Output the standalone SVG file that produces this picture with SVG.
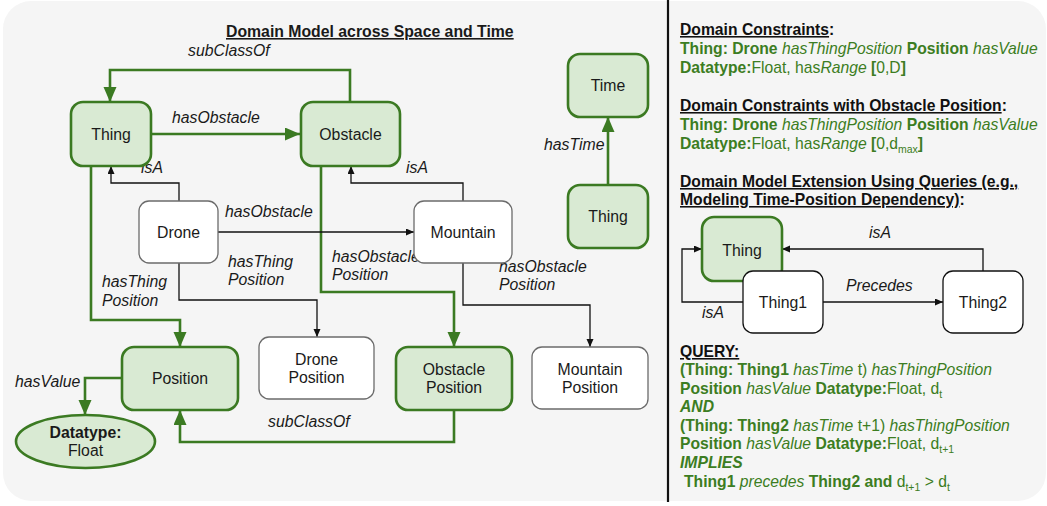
<svg xmlns="http://www.w3.org/2000/svg" width="1047" height="506" viewBox="0 0 1047 506">
  <defs>
    <style>
      text { font-family: "Liberation Sans", Arial, sans-serif; font-size: 15.8px; fill: #1a1a1a; }
      .lbl { font-style: italic; }
      .ctr { text-anchor: middle; }
      .title { font-weight: bold; text-decoration: underline; }
      .green-node { fill: #d9ead3; stroke: #3b7a22; stroke-width: 2.6; }
      .white-node { fill: #ffffff; stroke: #6b6b6b; stroke-width: 1.3; }
      .black-node { fill: #ffffff; stroke: #111111; stroke-width: 1.3; }
      .g-edge { fill: none; stroke: #3b7a22; stroke-width: 2.6; marker-end: url(#arrowGreen); }
      .b-edge { fill: none; stroke: #111111; stroke-width: 1.3; marker-end: url(#arrowBlack); }
      .gt { fill: #3c7d22; font-size: 15.7px; }
      .b { font-weight: bold; }
      .i { font-style: italic; }
      .u { text-decoration: underline; }
      .hd { font-weight: bold; fill: #111111; font-size: 15.7px; }
    </style>
    <marker id="arrowGreen" markerUnits="userSpaceOnUse" markerWidth="16" markerHeight="14" refX="15" refY="6.5" orient="auto">
      <path d="M0,0 L15,6.5 L0,13 Z" fill="#3b7a22"/>
    </marker>
    <marker id="arrowBlack" markerUnits="userSpaceOnUse" markerWidth="9" markerHeight="8" refX="8" refY="3.5" orient="auto">
      <path d="M0,0 L8,3.5 L0,7 Z" fill="#111111"/>
    </marker>
  </defs>

  <!-- canvas -->
  <rect x="3" y="1" width="1043" height="500" rx="28" fill="#f5f5f5"/>
  <line x1="668" y1="0" x2="668" y2="502" stroke="#111111" stroke-width="2.2"/>

  <text class="title" x="226" y="37">Domain Model across Space and Time</text>

  <!-- connectors -->
  <g id="connectors">
    <path class="g-edge" d="M350,102 V70 H110 V102"/>
    <path class="g-edge" d="M151,134 H300"/>
    <path class="g-edge" d="M91,166 V320 H180 V347"/>
    <path class="g-edge" d="M321,166 V292 H454 V347"/>
    <path class="g-edge" d="M454,410 V442 H180 V410"/>
    <path class="g-edge" d="M122,378 H85 V415"/>
    <path class="g-edge" d="M608,185 V117"/>

    <path class="b-edge" d="M179,201 V183 H111 V166"/>
    <path class="b-edge" d="M463,201 V183 H351 V166"/>
    <path class="b-edge" d="M218,232 H414"/>
    <path class="b-edge" d="M179,263 V300 H317 V337"/>
    <path class="b-edge" d="M463,263 V305 H590 V347"/>

    <path class="b-edge" d="M983,271 V249 H782"/>
    <path class="b-edge" d="M743,302 H682 V249 H702"/>
    <path class="b-edge" d="M823,302 H943"/>

    <g id="edge-labels">
      <text class="lbl" x="188" y="56">subClassOf</text>
      <text class="lbl" x="172" y="123">hasObstacle</text>
      <text class="lbl" x="141" y="173">isA</text>
      <text class="lbl" x="406" y="173">isA</text>
      <text class="lbl" x="225" y="217">hasObstacle</text>
      <text class="lbl" x="102" y="287">hasThing</text>
      <text class="lbl" x="102" y="306">Position</text>
      <text class="lbl" x="228" y="267">hasThing</text>
      <text class="lbl" x="228" y="285">Position</text>
      <text class="lbl" x="332" y="262">hasObstacle</text>
      <text class="lbl" x="332" y="280">Position</text>
      <text class="lbl" x="499" y="272">hasObstacle</text>
      <text class="lbl" x="499" y="290">Position</text>
      <text class="lbl" x="268" y="427">subClassOf</text>
      <text class="lbl" x="15" y="387">hasValue</text>
      <text class="lbl" x="544" y="150">hasTime</text>
      <text class="lbl" x="869" y="238">isA</text>
      <text class="lbl" x="702" y="318">isA</text>
      <text class="lbl" x="846" y="291">Precedes</text>
    </g>
  </g>

  <!-- left model nodes -->
  <g id="thing">
    <rect class="green-node" x="71" y="102" width="80" height="64" rx="12"/>
    <text class="ctr" x="111" y="139.5">Thing</text>
  </g>
  <g id="obstacle">
    <rect class="green-node" x="301" y="102" width="99" height="64" rx="12"/>
    <text class="ctr" x="350.5" y="139.5">Obstacle</text>
  </g>
  <g id="time">
    <rect class="green-node" x="568" y="54" width="80" height="63" rx="12"/>
    <text class="ctr" x="608" y="91">Time</text>
  </g>
  <g id="thing-time">
    <rect class="green-node" x="568" y="185" width="80" height="63" rx="12"/>
    <text class="ctr" x="608" y="222">Thing</text>
  </g>
  <g id="drone">
    <rect class="white-node" x="139" y="201" width="79" height="62" rx="10"/>
    <text class="ctr" x="178.5" y="237.5">Drone</text>
  </g>
  <g id="mountain">
    <rect class="white-node" x="414" y="201" width="98" height="62" rx="10"/>
    <text class="ctr" x="463" y="237.5">Mountain</text>
  </g>
  <g id="position">
    <rect class="green-node" x="122" y="347" width="116" height="63" rx="12"/>
    <text class="ctr" x="180" y="384">Position</text>
  </g>
  <g id="drone-position">
    <rect class="white-node" x="259" y="337" width="115" height="62" rx="10"/>
    <text class="ctr" x="316.5" y="365">Drone</text>
    <text class="ctr" x="316.5" y="383">Position</text>
  </g>
  <g id="obstacle-position">
    <rect class="green-node" x="396" y="347" width="116" height="63" rx="12"/>
    <text class="ctr" x="454" y="375">Obstacle</text>
    <text class="ctr" x="454" y="393">Position</text>
  </g>
  <g id="mountain-position">
    <rect class="white-node" x="532" y="347" width="116" height="62" rx="10"/>
    <text class="ctr" x="590" y="375">Mountain</text>
    <text class="ctr" x="590" y="393">Position</text>
  </g>
  <g id="datatype-float">
    <ellipse class="green-node" cx="85.5" cy="441.5" rx="69.5" ry="26.5"/>
    <text class="ctr b" x="85.5" y="438">Datatype:</text>
    <text class="ctr" x="85.5" y="456">Float</text>
  </g>

  <!-- query extension nodes -->
  <g id="thing-q">
    <rect class="green-node" x="702" y="217" width="80" height="64" rx="12"/>
    <text class="ctr" x="742" y="256">Thing</text>
  </g>
  <g id="thing1">
    <rect class="black-node" x="743" y="271" width="80" height="62" rx="10"/>
    <text class="ctr" x="783" y="308">Thing1</text>
  </g>
  <g id="thing2">
    <rect class="black-node" x="943" y="271" width="80" height="62" rx="10"/>
    <text class="ctr" x="983" y="308">Thing2</text>
  </g>

  <!-- constraints and query text -->
  <g id="constraints">
    <text class="hd" x="680" y="35"><tspan class="u">Domain Constraints</tspan>:</text>
    <text class="gt" x="680" y="54"><tspan class="b">Thing: Drone </tspan><tspan class="i">hasThingPosition </tspan><tspan class="b">Position </tspan><tspan class="i">hasValue</tspan></text>
    <text class="gt" x="680" y="73"><tspan class="b">Datatype:</tspan>Float, has<tspan class="i">Range </tspan><tspan class="b">[</tspan>0,D<tspan class="b">]</tspan></text>

    <text class="hd" x="680" y="111"><tspan class="u">Domain Constraints with Obstacle Position</tspan>:</text>
    <text class="gt" x="680" y="130"><tspan class="b">Thing: Drone </tspan><tspan class="i">hasThingPosition </tspan><tspan class="b">Position </tspan><tspan class="i">hasValue</tspan></text>
    <text class="gt" x="680" y="149"><tspan class="b">Datatype:</tspan>Float, has<tspan class="i">Range </tspan><tspan class="b">[</tspan>0,d<tspan font-size="10.5" dy="4">max</tspan><tspan class="b" dy="-4">]</tspan></text>

    <text class="hd u" x="680" y="187">Domain Model Extension Using Queries (e.g.,</text>
    <text class="hd" x="680" y="205"><tspan class="u">Modeling Time-Position Dependency)</tspan>:</text>
  </g>

  <g id="query">
    <text class="hd u" x="680" y="357">QUERY:</text>
    <text class="gt" x="680" y="375"><tspan class="b">(Thing: Thing1 </tspan><tspan class="i">hasTime </tspan>t) <tspan class="i">hasThingPosition</tspan></text>
    <text class="gt" x="680" y="394"><tspan class="b">Position </tspan><tspan class="i">hasValue </tspan><tspan class="b">Datatype:</tspan>Float, d<tspan font-size="10.5" dy="4">t</tspan></text>
    <text class="gt b i" x="680" y="412">AND</text>
    <text class="gt" x="680" y="431"><tspan class="b">(Thing: Thing2 </tspan><tspan class="i">hasTime </tspan>t+1) <tspan class="i">hasThingPosition</tspan></text>
    <text class="gt" x="680" y="449"><tspan class="b">Position </tspan><tspan class="i">hasValue </tspan><tspan class="b">Datatype:</tspan>Float, d<tspan font-size="10.5" dy="4">t+1</tspan></text>
    <text class="gt b i" x="680" y="468">IMPLIES</text>
    <text class="gt" x="684" y="487"><tspan class="b">Thing1 </tspan><tspan class="i">precedes </tspan><tspan class="b">Thing2 and </tspan>d<tspan font-size="10.5" dy="4">t+1</tspan><tspan dy="-4"> &gt; d</tspan><tspan font-size="10.5" dy="4">t</tspan></text>
  </g>
</svg>
